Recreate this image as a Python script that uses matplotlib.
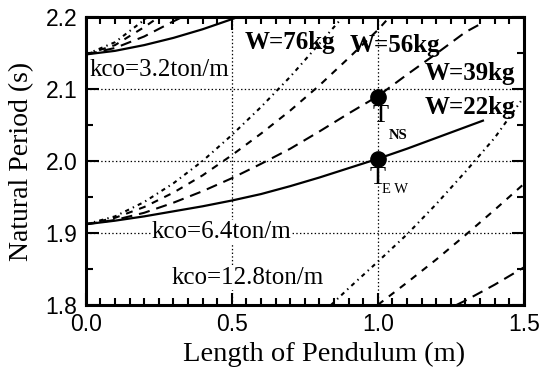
import matplotlib
matplotlib.use("Agg")
import matplotlib.pyplot as plt
from matplotlib.ticker import MultipleLocator

plt.rcParams['lines.scale_dashes'] = False

# natural period vs pendulum length, one group per spring stiffness kco
# kco = 3.2 ton/m
L32_w22 = [0.0, 0.1, 0.2, 0.3, 0.4, 0.5, 0.52]
T32_w22 = [2.148, 2.153, 2.161, 2.171, 2.183, 2.197, 2.200]
L32_w39 = [0.0, 0.1, 0.2, 0.3, 0.33]
T32_w39 = [2.148, 2.157, 2.173, 2.194, 2.200]
L32_w56 = [0.0, 0.1, 0.2, 0.25]
T32_w56 = [2.148, 2.161, 2.186, 2.200]
L32_w76 = [0.0, 0.1, 0.2, 0.21]
T32_w76 = [2.148, 2.165, 2.196, 2.200]

# kco = 6.4 ton/m
L64_w22 = [0.0, 0.1, 0.2, 0.3, 0.4, 0.5, 0.6, 0.7, 0.8, 0.9, 1.0, 1.1, 1.2, 1.3, 1.36]
T64_w22 = [1.912, 1.917, 1.923, 1.930, 1.937, 1.945, 1.954, 1.965, 1.977, 1.990,
           2.003, 2.017, 2.032, 2.047, 2.056]
L64_w39 = [0.0, 0.1, 0.2, 0.3, 0.4, 0.5, 0.6, 0.7, 0.8, 0.9, 1.0, 1.1, 1.2, 1.3, 1.35]
T64_w39 = [1.912, 1.918, 1.928, 1.942, 1.958, 1.976, 1.996, 2.017, 2.041, 2.066,
           2.090, 2.120, 2.149, 2.179, 2.190]
L64_w56 = [0.0, 0.1, 0.2, 0.3, 0.4, 0.5, 0.6, 0.7, 0.8, 0.9, 1.0, 1.04]
T64_w56 = [1.912, 1.921, 1.936, 1.956, 1.980, 2.008, 2.038, 2.070, 2.105, 2.143, 2.182, 2.200]
L64_w76 = [0.0, 0.1, 0.2, 0.3, 0.4, 0.5, 0.6, 0.7, 0.8, 0.88]
T64_w76 = [1.912, 1.923, 1.943, 1.969, 2.000, 2.036, 2.075, 2.117, 2.163, 2.200]

# kco = 12.8 ton/m (only the upper part is inside the frame)
L128_w39 = [1.27, 1.3, 1.4, 1.5]
T128_w39 = [1.800, 1.806, 1.828, 1.852]
L128_w56 = [1.0, 1.1, 1.2, 1.3, 1.4, 1.5]
T128_w56 = [1.800, 1.831, 1.863, 1.897, 1.932, 1.968]
L128_w76 = [0.84, 0.9, 1.0, 1.1, 1.2, 1.3, 1.4, 1.49]
T128_w76 = [1.800, 1.823, 1.860, 1.898, 1.940, 1.985, 2.032, 2.083]

# measured points
T_NS = 2.089
T_EW = 2.003

styles = {
    22: dict(ls='-', lw=1.6),
    39: dict(ls=(0, (8, 5)), lw=1.5),
    56: dict(ls=(0, (5, 5)), lw=1.5),
    76: dict(ls=(0, (3, 3, 1, 3)), lw=1.5),
}

fig = plt.figure(figsize=(5.4, 3.7), dpi=100)
ax = fig.add_axes([0.159, 0.176, 0.811, 0.778])

curves = [
    (L32_w22, T32_w22, 22), (L32_w39, T32_w39, 39), (L32_w56, T32_w56, 56), (L32_w76, T32_w76, 76),
    (L64_w22, T64_w22, 22), (L64_w39, T64_w39, 39), (L64_w56, T64_w56, 56), (L64_w76, T64_w76, 76),
    (L128_w39, T128_w39, 39), (L128_w56, T128_w56, 56), (L128_w76, T128_w76, 76),
]
for xs, ys, w in curves:
    ax.plot(xs, ys, color='black', zorder=3, **styles[w])

ax.plot([1.0], [T_NS], 'o', color='black', ms=11, zorder=4)
ax.plot([1.0], [T_EW], 'o', color='black', ms=11, zorder=4)

ax.set_xlim(0, 1.5)
ax.set_ylim(1.8, 2.2)
ax.xaxis.set_major_locator(MultipleLocator(0.5))
ax.xaxis.set_minor_locator(MultipleLocator(0.05))
ax.yaxis.set_major_locator(MultipleLocator(0.1))
ax.yaxis.set_minor_locator(MultipleLocator(0.05))
ax.grid(True, which='major', ls=':', lw=0.9, color='black', zorder=1)

ax.tick_params(which='both', direction='in', top=True, right=True, width=1.5, color='black')
ax.tick_params(which='major', length=9, pad=6, labelsize=16.5)
ax.tick_params(which='minor', length=5)
for lab in ax.get_xticklabels() + ax.get_yticklabels():
    lab.set_family('Liberation Sans')
for sp in ax.spines.values():
    sp.set_linewidth(2.2)

serif = 'Liberation Serif'
ax.set_xlabel('Length of Pendulum (m)', family=serif, fontsize=20.5, labelpad=2)
ax.xaxis.set_label_coords(0.543, -0.13)
ax.set_ylabel('Natural Period (s)', family=serif, fontsize=20, labelpad=8)

box = dict(facecolor='white', edgecolor='none', pad=0.5)
ax.text(0.012, 2.126, 'kco=3.2ton/m', family=serif, fontsize=18, va='center', ha='left',
        bbox=box, zorder=2)
ax.text(0.226, 1.901, 'kco=6.4ton/m', family=serif, fontsize=18, va='center', ha='left',
        bbox=box, zorder=2)
ax.text(0.295, 1.837, 'kco=12.8ton/m', family=serif, fontsize=18, va='center', ha='left',
        bbox=box, zorder=2)

ax.text(0.545, 2.165, 'W=76kg', family=serif, fontsize=18, fontweight='bold', va='center', ha='left')
ax.text(0.904, 2.161, 'W=56kg', family=serif, fontsize=18, fontweight='bold', va='center', ha='left')
ax.text(1.16, 2.121, 'W=39kg', family=serif, fontsize=18, fontweight='bold', va='center', ha='left')
ax.text(1.16, 2.074, 'W=22kg', family=serif, fontsize=18, fontweight='bold', va='center', ha='left')

ax.text(1.01, 2.062, 'T', family=serif, fontsize=19, va='center', ha='center')
ax.text(1.068, 2.035, 'NS', family=serif, fontsize=10.5, fontweight='bold', va='center', ha='center')
ax.text(1.0, 1.976, 'T', family=serif, fontsize=19, va='center', ha='center')
ax.text(1.058, 1.961, 'E W', family=serif, fontsize=10.5, va='center', ha='center')

fig.savefig('out.png', dpi=100)
